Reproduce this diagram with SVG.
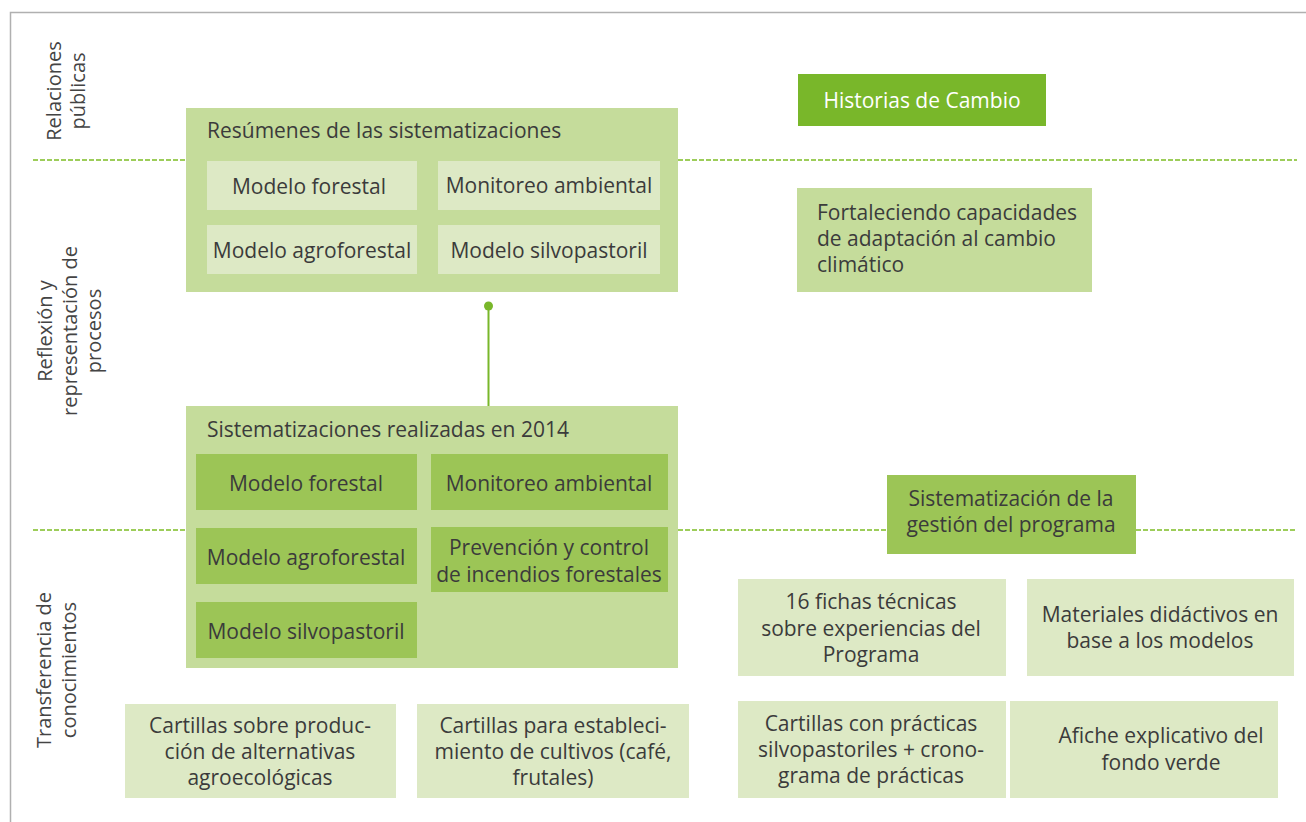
<svg xmlns="http://www.w3.org/2000/svg" width="1306" height="822" viewBox="0 0 1306 822">
<style>
.t{font-family:"Open Sans","Noto Sans","Liberation Sans",sans-serif;font-size:21px;fill:#3b3b3b}
.c{text-anchor:middle}
.lab{font-family:"Open Sans","Noto Sans","Liberation Sans",sans-serif;font-size:20px;fill:#444;text-anchor:middle}
.o{fill:#c5dc9b}
.l{fill:#dde9c5}
.m{fill:#9cc556}
.d{fill:#79b72a}
.dash{stroke:#9dcd5a;stroke-width:2;stroke-dasharray:5 2;fill:none}
</style>
<rect width="1306" height="822" fill="#fff"/>
<g id="frame">
<path d="M10.5 822 V12.5 H1306" stroke="#b0b0b0" stroke-width="1.5" fill="none"/>
</g>
<g id="swimlanes">
<path class="dash" d="M33 160 H186 M678 160 H1297"/>
<path class="dash" d="M33 530 H186 M678 530 H887 M1136 530 H1297"/>
<text class="lab" transform="translate(61,91) rotate(-90)">Relaciones</text>
<text class="lab" transform="translate(85,91) rotate(-90)">públicas</text>
<text class="lab" transform="translate(52,331) rotate(-90)">Reflexión y</text>
<text class="lab" transform="translate(77,331) rotate(-90)">representación de</text>
<text class="lab" transform="translate(101,331) rotate(-90)">procesos</text>
<text class="lab" transform="translate(51,670) rotate(-90)">Transferencia de</text>
<text class="lab" transform="translate(76,670) rotate(-90)">conocimientos</text>
</g>
<g id="resumenes">
<rect class="o" x="186" y="108" width="492" height="184"/>
<text class="t" x="207" y="138">Resúmenes de las sistematizaciones</text>
<rect class="l" x="207" y="161" width="210" height="49"/>
<text class="t c" x="309" y="194">Modelo forestal</text>
<rect class="l" x="438" y="161" width="222" height="49"/>
<text class="t c" x="549" y="193">Monitoreo ambiental</text>
<rect class="l" x="207" y="225" width="210" height="49"/>
<text class="t c" x="312" y="258">Modelo agroforestal</text>
<rect class="l" x="438" y="225" width="222" height="49"/>
<text class="t c" x="549" y="258">Modelo silvopastoril</text>
</g>
<g id="connectors">
<line x1="488.5" y1="306" x2="488.5" y2="406" stroke="#79b72a" stroke-width="2"/>
<circle cx="488.5" cy="306" r="4.5" fill="#79b72a"/>
</g>
<g id="sistematizaciones">
<rect class="o" x="186" y="406" width="492" height="262"/>
<text class="t" x="207" y="437">Sistematizaciones realizadas en 2014</text>
<rect class="m" x="196" y="454" width="221" height="56"/>
<text class="t c" x="306" y="491">Modelo forestal</text>
<rect class="m" x="431" y="454" width="237" height="56"/>
<text class="t c" x="549" y="491">Monitoreo ambiental</text>
<rect class="m" x="196" y="528" width="221" height="56"/>
<text class="t c" x="306" y="565">Modelo agroforestal</text>
<rect class="m" x="431" y="527" width="237" height="65"/>
<text class="t c" x="549" y="555">Prevención y control</text>
<text class="t c" x="549" y="582">de incendios forestales</text>
<rect class="m" x="196" y="602" width="221" height="56"/>
<text class="t c" x="306" y="639">Modelo silvopastoril</text>
</g>
<g id="historias">
<rect class="d" x="798" y="74" width="248" height="52"/>
<text class="t c" x="922" y="108" style="fill:#fff">Historias de Cambio</text>
</g>
<g id="fortaleciendo">
<rect class="o" x="797" y="188" width="295" height="104"/>
<text class="t" x="817" y="220">Fortaleciendo capacidades</text>
<text class="t" x="817" y="246">de adaptación al cambio</text>
<text class="t" x="817" y="272">climático</text>
</g>
<g id="gestion">
<rect class="m" x="887" y="475" width="249" height="79"/>
<text class="t c" x="1011" y="506">Sistematización de la</text>
<text class="t c" x="1011" y="532">gestión del programa</text>
</g>
<g id="fichas">
<rect class="l" x="738" y="579" width="268" height="97"/>
<text class="t c" x="871" y="609">16 fichas técnicas</text>
<text class="t c" x="871" y="636">sobre experiencias del</text>
<text class="t c" x="871" y="662">Programa</text>
</g>
<g id="materiales">
<rect class="l" x="1027" y="579" width="267" height="97"/>
<text class="t c" x="1160" y="622">Materiales didáctivos en</text>
<text class="t c" x="1160" y="648">base a los modelos</text>
</g>
<g id="cartillas-silvo">
<rect class="l" x="738" y="701" width="268" height="97"/>
<text class="t c" x="871" y="731">Cartillas con prácticas</text>
<text class="t c" x="871" y="757">silvopastoriles + crono-</text>
<text class="t c" x="871" y="783">grama de prácticas</text>
</g>
<g id="afiche">
<rect class="l" x="1010" y="701" width="268" height="97"/>
<text class="t c" x="1161" y="743">Afiche explicativo del</text>
<text class="t c" x="1161" y="770">fondo verde</text>
</g>
<g id="cartillas-prod">
<rect class="l" x="125" y="704" width="271" height="94"/>
<text class="t c" x="260" y="733">Cartillas sobre produc-</text>
<text class="t c" x="260" y="759">ción de alternativas</text>
<text class="t c" x="260" y="785">agroecológicas</text>
</g>
<g id="cartillas-cult">
<rect class="l" x="417" y="704" width="272" height="94"/>
<text class="t c" x="553" y="733">Cartillas para estableci-</text>
<text class="t c" x="553" y="759">miento de cultivos (café,</text>
<text class="t c" x="553" y="785">frutales)</text>
</g>
</svg>
